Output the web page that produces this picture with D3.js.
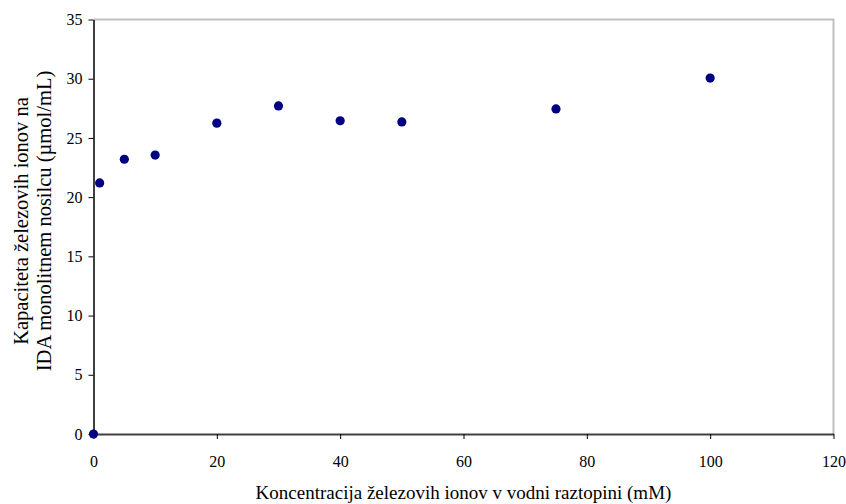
<!DOCTYPE html>
<html>
<head>
<meta charset="utf-8">
<script src="https://cdn.jsdelivr.net/npm/d3@7"></script>
<style>
  html, body { margin: 0; padding: 0; background: #fff; }
  svg { display: block; font-family: "Liberation Serif", "Times New Roman", serif; }
</style>
</head>
<body>
<svg id="chart" width="846" height="504"></svg>
<script>
// Iron ion concentration (mM) and capacity of the IDA monolith (µmol/mL)
const concentration = [0, 1, 5, 10, 20, 30, 40, 50, 75, 100];
const capacity = [0, 21.2, 23.2, 23.55, 26.25, 27.7, 26.45, 26.35, 27.45, 30.05];
const xTicks = [0, 20, 40, 60, 80, 100, 120];
const yTicks = [0, 5, 10, 15, 20, 25, 30, 35];

const svg = d3.select("#chart");
const margin = { left: 93.5, right: 12.5, top: 19.5, bottom: 70 };
const W = 846, H = 504;

const x = d3.scaleLinear().domain([0, 120]).range([margin.left, W - margin.right]);
const y = d3.scaleLinear().domain([0, 35]).range([H - margin.bottom, margin.top]);

// plot frame: light top/right edges
svg.append("path")
  .attr("d", `M${x(0)},${y(35)}H${x(120)}V${y(0)}`)
  .attr("fill", "none").attr("stroke", "#c0c0c0").attr("stroke-width", 2);

const xAxis = svg.append("g")
  .attr("transform", `translate(0,${y(0)})`)
  .call(d3.axisBottom(x).tickValues(xTicks).tickSize(5).tickPadding(17).tickSizeOuter(0));
const yAxis = svg.append("g")
  .attr("transform", `translate(${x(0)},0)`)
  .call(d3.axisLeft(y).tickValues(yTicks).tickSize(5).tickPadding(6).tickSizeOuter(0));

[xAxis, yAxis].forEach(g => {
  g.attr("font-family", null).attr("font-size", null);
  g.select(".domain").attr("stroke", "#404040").attr("stroke-width", 2);
  g.selectAll(".tick line").attr("stroke", "#000").attr("stroke-width", 1);
  g.selectAll(".tick text")
    .attr("fill", "#000")
    .style("font-family", "'Liberation Serif', 'Times New Roman', serif")
    .style("font-size", "16px");
});

// data points
svg.append("g").selectAll("circle")
  .data(concentration.map((c, i) => [c, capacity[i]]))
  .join("circle")
  .attr("cx", d => x(d[0]))
  .attr("cy", d => y(d[1]))
  .attr("r", 4.6)
  .attr("fill", "#000080");

// axis titles
svg.append("text")
  .attr("x", (x(0) + x(120)) / 2)
  .attr("y", 498.5)
  .attr("text-anchor", "middle")
  .style("font-size", "19px")
  .text("Koncentracija železovih ionov v vodni raztopini (mM)");

const yt = svg.append("text")
  .attr("transform", `translate(0,221) rotate(-90)`)
  .attr("text-anchor", "middle")
  .style("font-size", "20.5px");
yt.append("tspan").attr("x", 0).attr("y", 28).text("Kapaciteta železovih ionov na");
yt.append("tspan").attr("x", 0).attr("y", 50.5).text("IDA monolitnem nosilcu (µmol/mL)");
</script>
</body>
</html>
